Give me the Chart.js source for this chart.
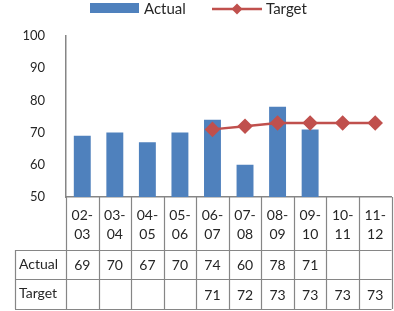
<!DOCTYPE html>
<html><head><meta charset="utf-8">
<script src="https://cdn.jsdelivr.net/npm/chart.js@4/dist/chart.umd.min.js"></script>
<style>html,body{margin:0;padding:0;overflow:hidden;background:#fff}#wrap{width:400px;height:311px}</style>
</head><body><div id="wrap"><canvas id="c" width="400" height="311"></canvas></div>
<script>
const categories = ['02-03','03-04','04-05','05-06','06-07','07-08','08-09','09-10','10-11','11-12'];
const actual = [69,70,67,70,74,60,78,71,null,null];
const target = [null,null,null,null,71,72,73,73,73,73];
const seriesNames = ['Actual','Target'];
const yMin = 50, yMax = 100, yStep = 10;

const BLUE = '#4F81BD', RED = '#C0504D', GRID = '#868686', TXT = '#262626';
const FONT = 'Lato, "Noto Sans", sans-serif';

const tablePlugin = {
  id: 'tablePlugin',
  afterDraw(chart) {
    const ctx = chart.ctx, xs = chart.scales.x, ca = chart.chartArea;
    const n = categories.length;
    const w = (xs.right - xs.left) / n;
    const top = ca.bottom, r1 = 250, r2 = 279, r3 = 309, left = 15;
    ctx.save();
    ctx.strokeStyle = GRID; ctx.lineWidth = 1.2;
    ctx.beginPath();
    for (let i = 0; i <= n; i++) {
      const x = Math.round(xs.getPixelForValue(0) - w / 2 + i * w) + 0.5;
      ctx.moveTo(x, top); ctx.lineTo(x, r3);
    }
    ctx.moveTo(left + 0.5, r1); ctx.lineTo(left + 0.5, r3);
    [r1, r2, r3].forEach(y => { ctx.moveTo(left, y + 0.5); ctx.lineTo(xs.right, y + 0.5); });
    ctx.stroke();
    ctx.fillStyle = TXT;
    ctx.textAlign = 'center'; ctx.textBaseline = 'middle';
    ctx.font = '14px ' + FONT;
    categories.forEach((c, i) => {
      const x = xs.getPixelForValue(i);
      const p = c.split('-');
      ctx.fillText(p[0] + '-', x, 215);
      ctx.fillText(p[1], x, 234);
      if (actual[i] != null) ctx.fillText(String(actual[i]), x, 265);
      if (target[i] != null) ctx.fillText(String(target[i]), x, 295);
    });
    ctx.textAlign = 'left';
    ctx.fillText(seriesNames[0], 19, 264);
    ctx.fillText(seriesNames[1], 19, 293);
    // legend
    ctx.fillStyle = BLUE;
    ctx.fillRect(90, 3, 49, 10);
    ctx.fillStyle = TXT;
    ctx.font = '15px ' + FONT;
    ctx.fillText(seriesNames[0], 144, 9);
    ctx.strokeStyle = RED; ctx.lineWidth = 2.5;
    ctx.beginPath(); ctx.moveTo(212, 9); ctx.lineTo(262, 9); ctx.stroke();
    ctx.fillStyle = RED;
    ctx.beginPath(); ctx.moveTo(237, 3.5); ctx.lineTo(242.5, 9); ctx.lineTo(237, 14.5); ctx.lineTo(231.5, 9); ctx.closePath(); ctx.fill();
    ctx.fillStyle = TXT;
    ctx.fillText(seriesNames[1], 266, 9);
    ctx.restore();
  }
};

new Chart(document.getElementById('c'), {
  data: {
    labels: categories,
    datasets: [
      { type: 'line', label: seriesNames[1], data: target, borderColor: RED, backgroundColor: RED,
        borderWidth: 2.5, pointStyle: 'rectRot', pointRadius: 6, pointHoverRadius: 6, order: 0, spanGaps: false },
      { type: 'bar', label: seriesNames[0], data: actual, backgroundColor: BLUE, borderWidth: 0,
        barPercentage: 0.52, categoryPercentage: 1, order: 1 }
    ]
  },
  options: {
    responsive: false, animation: false, devicePixelRatio: 1,
    layout: { padding: { top: 36, right: 2, left: 0, bottom: 0 } },
    plugins: { legend: { display: false }, tooltip: { enabled: false } },
    scales: {
      x: {
        grid: { display: false },
        border: { display: true, color: GRID, width: 1.5 },
        ticks: { display: false },
        afterFit(s) { s.height = 114; }
      },
      y: {
        min: yMin, max: yMax,
        grid: { display: false, drawTicks: false },
        border: { display: true, color: GRID, width: 1.5 },
        ticks: { stepSize: yStep, padding: 21, color: TXT, font: { family: FONT, size: 13 } },
        afterFit(s) { s.width = 66; }
      }
    }
  },
  plugins: [tablePlugin]
});
</script></body></html>
